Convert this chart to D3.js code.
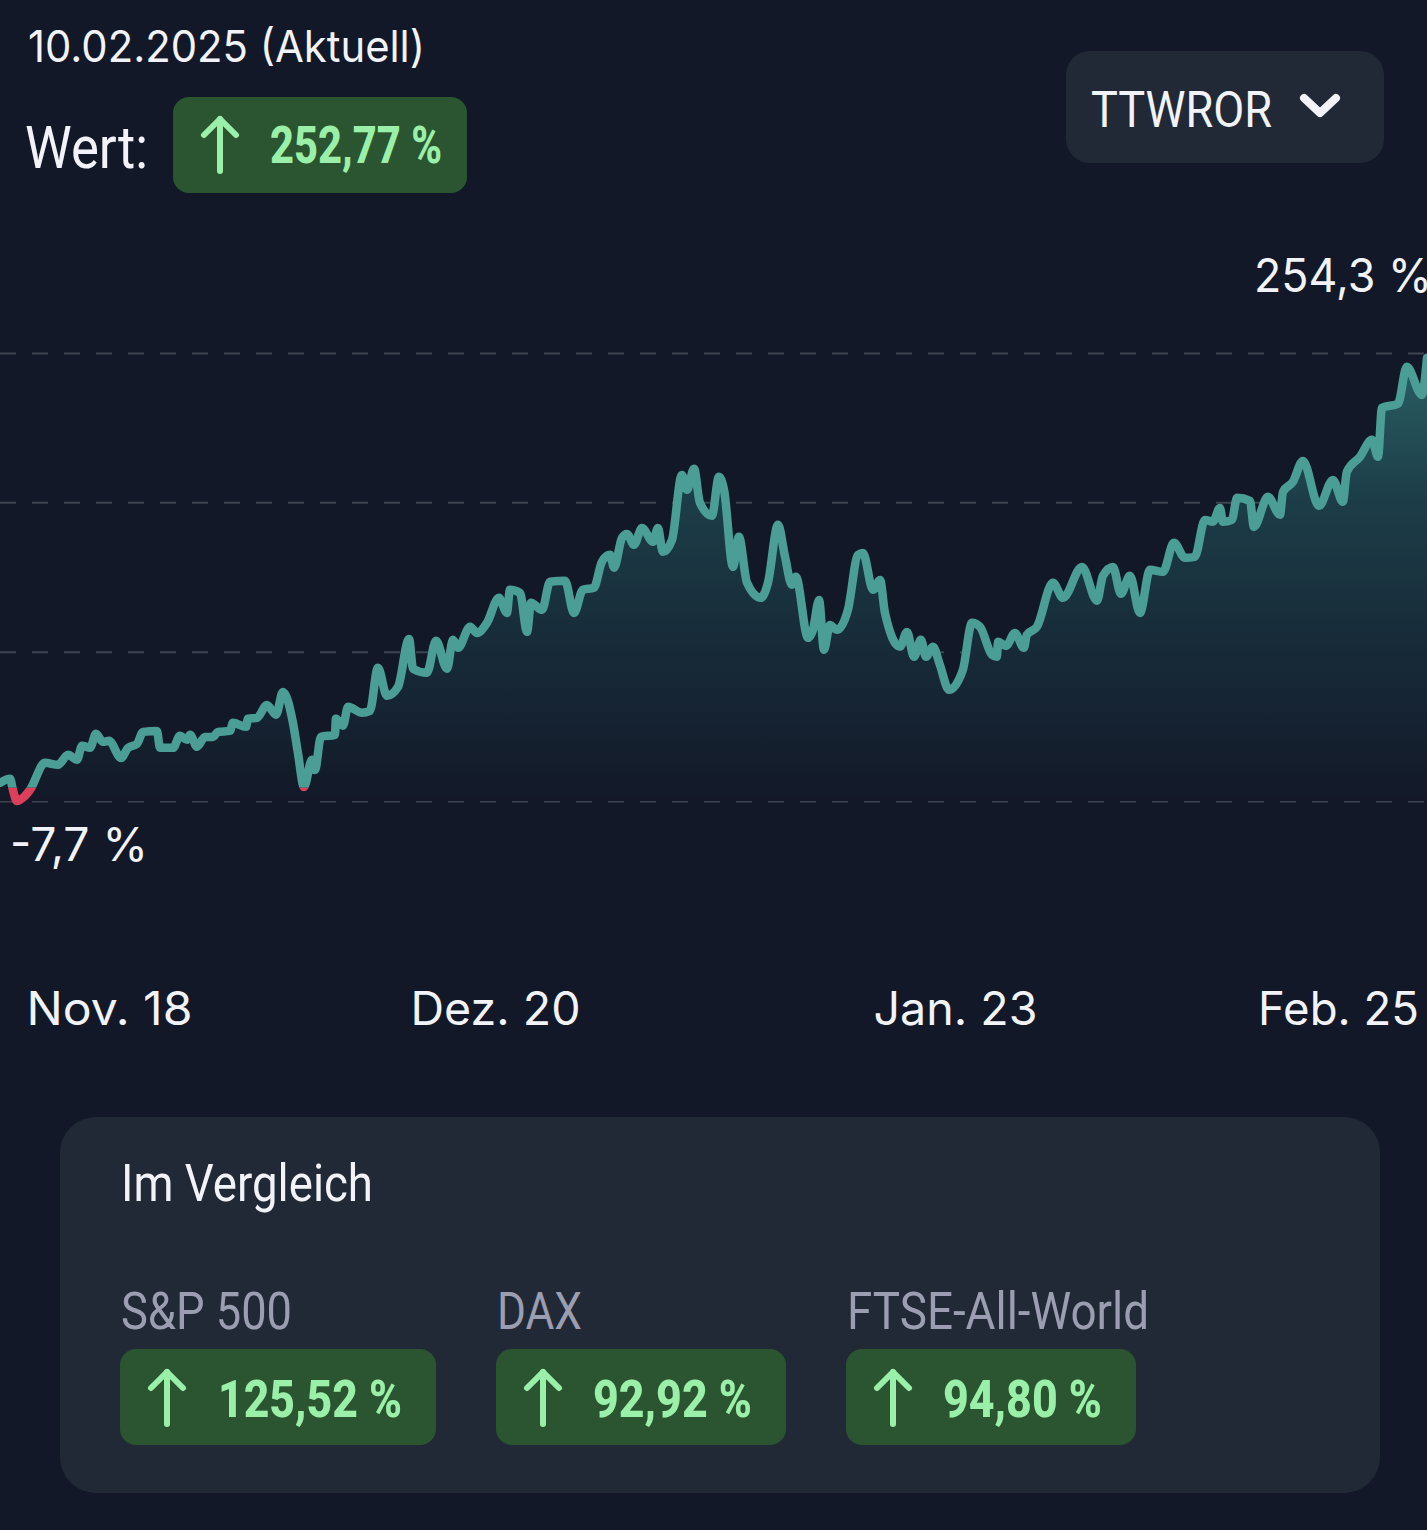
<!DOCTYPE html>
<html>
<head>
<meta charset="utf-8">
<title>TTWROR</title>
<script src="https://cdn.jsdelivr.net/npm/d3@7"></script>
<style>
  html, body { margin: 0; padding: 0; background: #121827; }
  svg { display: block; }
</style>
</head>
<body>
<svg id="chart" width="1427" height="1530"></svg>
<script>
// months since Nov. 18 and return in percent
const months = [0,.53,.68,.89,1.21,1.58,2.37,3.05,3.58,4.05,4.32,4.74,5.05,5.42,5.74,6.37,6.74,7.21,7.53,8.26,8.42,9.11,9.47,9.84,10,10.37,10.79,11.21,11.47,12.11,12.26,12.95,13.05,13.53,14.05,14.53,14.89,15.42,15.68,16,16.42,16.58,16.89,17.63,17.68,18.05,18.32,19.05,19.47,19.89,20.37,20.95,21.53,21.74,22.47,22.95,23.53,23.84,24.11,24.74,25.11,25.63,26.26,26.68,26.84,27.37,27.74,27.95,28.53,28.95,29.74,30.21,30.68,31.26,31.68,32.11,32.32,32.74,33,33.37,33.79,34.37,34.63,34.89,35.37,35.89,36.16,36.53,36.84,37.47,37.84,38.11,38.58,38.89,39.32,40.05,40.42,40.95,41.32,41.68,41.89,42.53,42.79,43.11,43.37,43.68,44.05,44.63,45.16,45.42,45.95,46.32,46.58,47.37,47.74,48.11,48.47,48.74,49.11,49.47,49.95,50.68,51.16,51.58,52.21,52.47,52.53,52.95,53.42,53.89,54.05,54.58,55.42,55.95,56.95,57.74,58.05,58.58,59,59.47,60,60.53,61.21,61.79,62.37,62.89,63.42,63.84,64.21,64.37,64.84,65.11,65.79,66,66.74,67.37,67.53,68.05,68.58,69.42,70.16,70.68,70.89,71.58,72.21,72.53,72.74,73.58,74.05,74.84,75.11];
const returns = [2.9,5.3,-1.2,-7.7,-5.8,-1.2,14.6,13.5,19.3,16.4,24.6,23.4,31.6,26.9,27.5,17.5,23.4,25.7,32.7,33.3,23.4,23.4,30.4,28.1,31,24,29.8,29.8,32.7,33.3,38,35.7,40.4,40.9,48.5,42.7,56.1,38,20.5,.5,16.4,10.5,29.8,31,40.4,36.3,47.4,43.9,45,70.2,53.8,59.1,87.1,69.6,67.3,86,69.6,86.6,81.9,94.2,90.6,96.5,111.1,102.3,115.8,114,91.2,108.2,104.1,120.5,121.1,102.3,115.8,117,132.2,136.3,128.7,146.2,148.5,142.1,152,143.9,152,138,145,183,174.3,186.6,166.7,159.1,181.9,174.3,129.2,146.8,119.9,111.1,119.9,153.8,135.1,118.7,123.4,87.7,92.4,109.9,80.7,95.3,92.4,104.1,136.3,137.4,115.8,121.6,102.3,82.5,91.2,76.6,86.6,76.6,82.5,71.9,57.3,69,96.5,94.2,77.8,76.6,85.4,83,90.6,81.9,89.5,94.2,119.9,111.1,129.2,109.4,124,129.2,113.5,124,102.3,127.5,126.3,143.3,134.5,135.1,156.7,155.6,163.7,155.6,156.7,169.6,167.8,152.6,170.2,159.7,173.1,178.9,191.2,164.9,180.1,167.3,184.8,193.6,203.5,193.6,222.2,224.6,246.2,229.8,251.5];

const gridValues = [-7.7, 79.6, 167, 254.3];
const tickLabels = ["Nov. 18", "Dez. 20", "Jan. 23", "Feb. 25"];
const benchmarkNames = ["S&P 500", "DAX", "FTSE-All-World"];
const benchmarkValues = ["125,52 %", "92,92 %", "94,80 %"];

const width = 1427;
const svg = d3.select("#chart");

const defs = svg.append("defs");
const grad = defs.append("linearGradient")
    .attr("id", "areaFill")
    .attr("gradientUnits", "userSpaceOnUse")
    .attr("x1", 0).attr("x2", 0).attr("y1", 353).attr("y2", 801);
[[0, "#2b6066"], [.33, "#1c3d47"], [.66, "#172a38"], [.85, "#152130"], [1, "#121827"]].forEach(s => {
    grad.append("stop").attr("offset", s[0]).attr("stop-color", s[1]);
});

const x = d3.scaleLinear().domain([0, 75.11]).range([0, width]);
const y = d3.scaleLinear().domain([-7.7, 254.3]).range([801, 353]);

const points = months.map((m, i) => ({ m: m, v: returns[i] }));

// keeps the line teal above zero and red below it
defs.append("clipPath").attr("id", "aboveZero").append("rect")
    .attr("x", 0).attr("y", 0).attr("width", width).attr("height", y(0));
defs.append("clipPath").attr("id", "belowZero").append("rect")
    .attr("x", 0).attr("y", y(0)).attr("width", width).attr("height", 200);

//grid
const grid = svg.append("g")
    .call(d3.axisLeft(y).tickValues(gridValues).tickSize(-width).tickFormat(""));
grid.select(".domain").remove();
grid.selectAll("line")
    .attr("stroke", "#3d4350")
    .attr("stroke-width", 2)
    .attr("stroke-dasharray", "16 16");

//area and line
const area = d3.area()
    .x(d => x(d.m)).y0(y(-7.7)).y1(d => y(d.v))
    .curve(d3.curveMonotoneX);
const line = d3.line()
    .x(d => x(d.m)).y(d => y(d.v))
    .curve(d3.curveMonotoneX);

svg.append("path").datum(points)
    .attr("d", area)
    .attr("fill", "url(#areaFill)");

[["aboveZero", "#4a9e96"], ["belowZero", "#dc3f5c"]].forEach(l => {
    svg.append("path").datum(points)
        .attr("d", line)
        .attr("fill", "none")
        .attr("stroke", l[1])
        .attr("stroke-width", 8.5)
        .attr("stroke-linejoin", "round")
        .attr("stroke-linecap", "round")
        .attr("clip-path", `url(#${l[0]})`);
});

//time axis, the labels sit where the app puts them
const labelScale = d3.scaleOrdinal(tickLabels, [109, 495, 955, 1338]);
const labelW = [166, 170, 164, 161];
const xAxis = svg.append("g")
    .attr("transform", "translate(0,1025)")
    .call(d3.axisBottom(labelScale).tickSize(0).tickPadding(0));
xAxis.select(".domain").remove();
xAxis.selectAll("text")
    .attr("y", 0).attr("dy", 0)
    .attr("font-family", "Inter")
    .attr("font-size", 46)
    .attr("font-weight", 400)
    .attr("fill", "#f1f3f8")
    .attr("textLength", (d, i) => labelW[i])
    .attr("lengthAdjust", "spacingAndGlyphs");

function inter(text, xPos, yPos, len) {
    return svg.append("text")
        .attr("x", xPos).attr("y", yPos)
        .attr("font-family", "Inter")
        .attr("font-size", 46)
        .attr("font-weight", 400)
        .attr("fill", "#f1f3f8")
        .attr("textLength", len)
        .attr("lengthAdjust", "spacingAndGlyphs")
        .text(text);
}

// Roboto squeezed to the width of the app's condensed face
function condensed(text, xPos, yPos, size, len, weight, fill) {
    return svg.append("text")
        .attr("x", xPos).attr("y", yPos)
        .attr("font-family", "Roboto")
        .attr("font-size", size)
        .attr("font-weight", weight)
        .attr("fill", fill)
        .attr("textLength", len)
        .attr("lengthAdjust", "spacingAndGlyphs")
        .text(text);
}

function upArrow(cx, top, bottom) {
    svg.append("path")
        .attr("d", d3.line()([[cx - 16, top + 17], [cx, top + 1], [cx + 16, top + 17]]))
        .attr("fill", "none")
        .attr("stroke", "#9af0a8")
        .attr("stroke-width", 6)
        .attr("stroke-linecap", "round")
        .attr("stroke-linejoin", "round");
    svg.append("path")
        .attr("d", d3.line()([[cx, top + 1], [cx, bottom]]))
        .attr("stroke", "#9af0a8")
        .attr("stroke-width", 6)
        .attr("stroke-linecap", "round");
}

function badge(bx, by, w, h) {
    svg.append("rect")
        .attr("x", bx).attr("y", by).attr("width", w).attr("height", h)
        .attr("rx", 16)
        .attr("fill", "#2b5531");
}

//header
inter("10.02.2025 (Aktuell)", 28, 62, 397).attr("font-size", 44);
condensed("Wert:", 25, 168, 60, 123, 400, "#f1f3f8");
badge(173, 97, 294, 96);
upArrow(220, 118, 171);
condensed("252,77 %", 270, 163, 52, 172, 800, "#9af0a8");

svg.append("rect")
    .attr("x", 1066).attr("y", 51).attr("width", 318).attr("height", 112)
    .attr("rx", 24)
    .attr("fill", "#222936");
condensed("TTWROR", 1091, 127, 50, 181, 400, "#f1f3f8");
svg.append("path")
    .attr("d", d3.line()([[1304, 98], [1320, 113], [1336, 98]]))
    .attr("fill", "none")
    .attr("stroke", "#f1f3f8")
    .attr("stroke-width", 8)
    .attr("stroke-linecap", "round")
    .attr("stroke-linejoin", "round");

//max and min labels
inter("254,3 %", 1254, 292, 178);
inter("-7,7 %", 10, 861, 138);

//comparison card
svg.append("rect")
    .attr("x", 60).attr("y", 1117).attr("width", 1320).attr("height", 376)
    .attr("rx", 36)
    .attr("fill", "#222936");
condensed("Im Vergleich", 121, 1201, 52, 252, 400, "#f1f3f8");

const nameX = [121, 497, 847];
const nameW = [171, 85, 302];
const badgeX = [120, 496, 846];
const badgeW = [316, 290, 290];
const arrowX = [167, 543, 893];
const valueX = [218, 593, 943];
const valueW = [184, 159, 159];

benchmarkNames.forEach((name, i) => {
    condensed(name, nameX[i], 1329, 52, nameW[i], 400, "#9a9eb0");
    badge(badgeX[i], 1349, badgeW[i], 96);
    upArrow(arrowX[i], 1371, 1424);
    condensed(benchmarkValues[i], valueX[i], 1417, 52, valueW[i], 800, "#9af0a8");
});
</script>
</body>
</html>
